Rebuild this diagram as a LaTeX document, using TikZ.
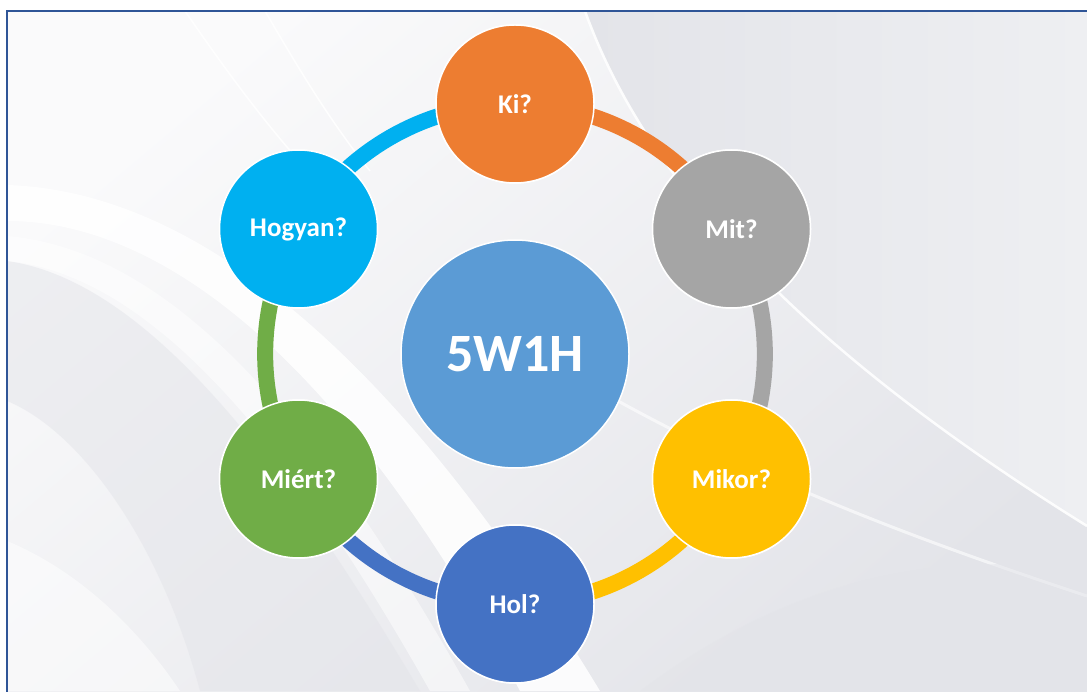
\documentclass[tikz,border=0pt]{standalone}
\usepackage{fontspec}
\setmainfont{Carlito}
\definecolor{frameblue}{HTML}{2F5597}
\definecolor{kiC}{HTML}{ED7D31}
\definecolor{mitC}{HTML}{A5A5A5}
\definecolor{mikorC}{HTML}{FFC000}
\definecolor{holC}{HTML}{4472C4}
\definecolor{miertC}{HTML}{70AD47}
\definecolor{hogyanC}{HTML}{00B0F0}
\definecolor{centC}{HTML}{5B9BD5}
\definecolor{bgLight}{HTML}{FAFAFB}
\definecolor{bgMid}{HTML}{EEEFF2}
\definecolor{bgDark}{HTML}{E3E4E9}
\tikzset{
  qc/.style={circle, minimum size=158pt, inner sep=0pt, draw=white, line width=1.5pt,
             text=white, font=\bfseries\fontsize{27}{27}\selectfont},
  ringseg/.style={line width=16pt, bend left=30, looseness=0.912},
  swoosh/.style={fill=white, draw=none}
}
\begin{document}
\begin{tikzpicture}[x=1pt,y=1pt]
\useasboundingbox (0,0) rectangle (1087,691);
\fill[white] (0,0) rectangle (1087,691);
% background
\begin{scope}
\clip (7,0) rectangle (1087,680);
\shade[top color=bgLight, bottom color=bgDark, shading angle=40] (7,0) rectangle (1087,680);
% right region beyond the big curve
\shade[left color=bgDark, right color=bgMid] (585,680) .. controls (660,470) and (870,300) .. (1087,165) -- (1087,680) -- cycle;
\draw[white, line width=2.5pt, opacity=0.9] (585,680) .. controls (660,470) and (870,300) .. (1087,165);
% lower right streak
\draw[white, line width=3pt, opacity=0.6] (600,300) .. controls (760,210) and (920,150) .. (1087,95);
\fill[bgDark, opacity=0.5] (640,0) .. controls (800,120) and (950,140) .. (1087,120) -- (1087,0) -- cycle;
% grey zone on the left
\fill[bgDark, opacity=0.5] (7,430) .. controls (150,410) and (290,220) .. (420,0) -- (200,0) .. controls (160,150) and (80,260) .. (7,290) -- cycle;
% left white swoosh bands
\fill[swoosh, opacity=0.85] (7,506) .. controls (200,500) and (400,330) .. (600,0) -- (520,0) .. controls (360,300) and (180,470) .. (7,470) -- cycle;
\fill[swoosh, opacity=0.5] (7,455) .. controls (180,440) and (330,250) .. (470,0) -- (430,0) .. controls (300,230) and (160,415) .. (7,430) -- cycle;
% lower left whitish
\fill[white, opacity=0.5] (7,0) -- (7,150) .. controls (80,120) and (140,60) .. (180,0) -- cycle;
% faint lines top left
\draw[white, line width=1.5pt, opacity=0.9] (185,680) .. controls (240,600) and (300,520) .. (360,470);
\draw[white, line width=1.5pt, opacity=0.9] (265,680) .. controls (300,620) and (330,570) .. (370,520);
\end{scope}
% frame
\draw[frameblue, line width=2pt] (1090,680) -- (7,680) -- (7,-3);
% nodes
\coordinate (o) at (515,337);
\node[qc, fill=kiC]     (ki)     at (515,587) {Ki?};
\node[qc, fill=mitC]    (mit)    at (731.5,462) {Mit?};
\node[qc, fill=mikorC]  (mikor)  at (731.5,212) {Mikor?};
\node[qc, fill=holC]    (hol)    at (515,87) {Hol?};
\node[qc, fill=miertC]  (miert)  at (298.5,212) {Miért?};
\node[qc, fill=hogyanC] (hogyan) at (298.5,462) {Hogyan?};
% ring segments
\path[ringseg, draw=kiC]     (ki.center) to (mit.center);
\path[ringseg, draw=mitC]    (mit.center) to (mikor.center);
\path[ringseg, draw=mikorC]  (mikor.center) to (hol.center);
\path[ringseg, draw=holC]    (hol.center) to (miert.center);
\path[ringseg, draw=miertC]  (miert.center) to (hogyan.center);
\path[ringseg, draw=hogyanC] (hogyan.center) to (ki.center);
% circles on top of the ring
\node[qc, fill=kiC]     at (ki)     {Ki?};
\node[qc, fill=mitC]    at (mit)    {Mit?};
\node[qc, fill=mikorC]  at (mikor)  {Mikor?};
\node[qc, fill=holC]    at (hol)    {Hol?};
\node[qc, fill=miertC]  at (miert)  {Miért?};
\node[qc, fill=hogyanC] at (hogyan) {Hogyan?};
\node[circle, minimum size=228pt, inner sep=0pt, fill=centC, draw=white, line width=1.5pt,
      text=white, font=\bfseries\fontsize{54}{54}\selectfont] (c) at (o) {5W1H};
\end{tikzpicture}
\end{document}
